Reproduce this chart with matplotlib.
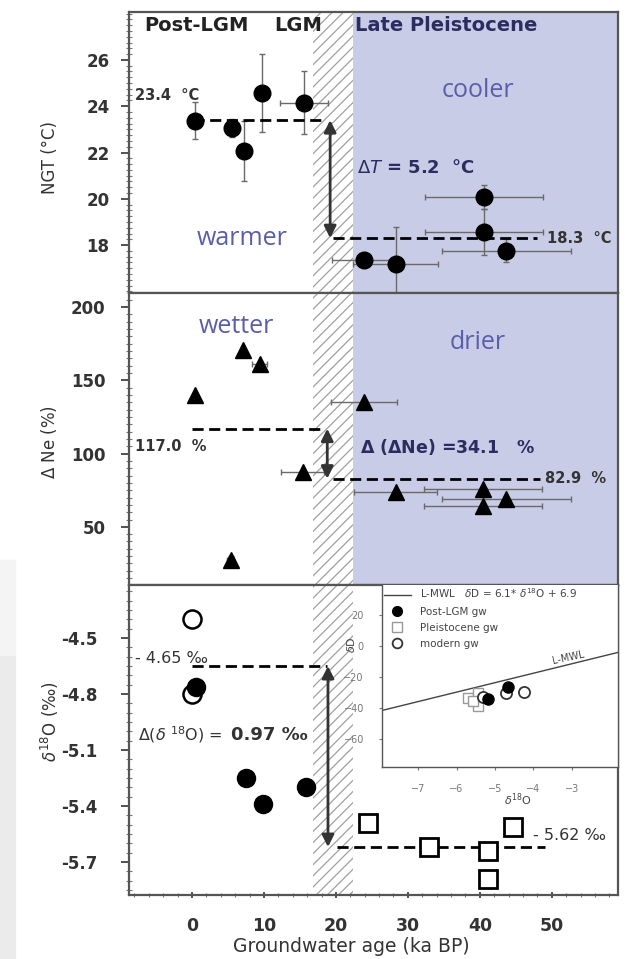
import matplotlib
matplotlib.use('Agg')
import matplotlib.pyplot as plt
from matplotlib.ticker import MultipleLocator, FormatStrFormatter
from matplotlib.lines import Line2D
from matplotlib.patches import Rectangle

plt.rcParams['font.family'] = ['DejaVu Sans']
plt.rcParams['hatch.linewidth'] = 0.9

# ---------------- data ----------------
# Panel 1: noble gas temperature
ngt_age = [0.4, 5.6, 7.2, 9.7, 15.6, 40.6, 40.6, 43.7, 23.9, 28.3]
ngt = [23.37, 23.06, 22.07, 24.57, 24.15, 20.08, 18.57, 17.75, 17.34, 17.2]
ngt_xerr = [0.0, 0.6, 0.0, 1.0, 3.3, 8.2, 8.2, 9.0, 4.5, 5.9]
ngt_yerr = [0.8, 0.4, 1.3, 1.7, 1.35, 0.5, 1.0, 0.5, 0.3, 1.6]
ngt_mean_post, ngt_mean_pleist = 23.4, 18.3

# Panel 2: Delta Ne
ne_age = [0.4, 7.1, 9.4, 23.9, 15.4, 5.4, 28.3, 40.4, 43.7, 40.4]
ne = [140, 170.5, 161, 135, 87.7, 27.4, 74, 76, 69, 64]
ne_xerr = [0.0, 0.0, 1.0, 4.6, 3.0, 0.5, 5.8, 8.2, 9.0, 8.2]
ne_yerr = [0, 0, 0, 0, 0, 3, 0, 0, 0, 0]
ne_mean_post, ne_mean_pleist = 117.0, 82.9

# Panel 3: delta 18O
post_age = [0.6, 7.5, 9.9, 15.8]
post_d18o = [-4.76, -5.25, -5.39, -5.30]
modern_age = [0.0, 0.0]
modern_d18o = [-4.40, -4.80]
pleist_age = [24.4, 32.9, 41.1, 41.1, 44.6]
pleist_d18o = [-5.49, -5.62, -5.64, -5.79, -5.51]
d18o_mean_post, d18o_mean_pleist = -4.65, -5.62

# Inset: dD vs d18O
inset_post_x = [-5.18, -4.66]
inset_post_y = [-34.2, -26.5]
inset_pleist_x = [-5.70, -5.44, -5.44, -5.58]
inset_pleist_y = [-33.5, -30.3, -38.7, -35.5]
inset_modern_x = [-4.71, -4.25, -5.31]
inset_modern_y = [-30.0, -29.7, -33.0]
lmwl_slope, lmwl_icept = 6.1, 6.9
lmwl_x = [-8.0, -1.5]

# periods
lgm_span = (16.8, 22.4)
pleist_start = 22.4
XMIN, XMAX = -8.75, 59.2

# ---------------- layout ----------------
W, H = 635, 959
fig = plt.figure(figsize=(W / 100, H / 100), dpi=100)

# faint grey scan artefact at the lower left edge
fig.patches.append(Rectangle((0, 0), 15 / W, 1 - 655 / H, transform=fig.transFigure,
                             color='#ebebeb', zorder=0))
fig.patches.append(Rectangle((0, 1 - 655 / H), 15 / W, 95 / H, transform=fig.transFigure,
                             color='#f4f4f4', zorder=0))


def ax_px(l, t, r, b):
    return fig.add_axes([l / W, 1 - b / H, (r - l) / W, (b - t) / H])


ax1 = ax_px(129, 12, 618, 293)
ax2 = ax_px(129, 293, 618, 585)
ax3 = ax_px(129, 585, 618, 895)

SHADE = '#c9cce6'
DESC = '#5a5ea8'
NAVY = '#2b2d5e'
ECOL = '#6a6a6a'
TXT = '#333333'

for ax, pad in ((ax1, 8), (ax2, 11), (ax3, 17)):
    ax.set_xlim(XMIN, XMAX)
    for s in ax.spines.values():
        s.set_color('#555555')
        s.set_linewidth(1.6)
    ax.axvspan(*lgm_span, facecolor='none', edgecolor='#a0a0a0', hatch='///',
               linewidth=0, zorder=0.5)
    ax.tick_params(axis='y', which='major', direction='out', length=6, width=1.2,
                   labelsize=12, colors=TXT, pad=pad)
    ax.tick_params(axis='y', which='minor', direction='inout', length=4, width=0.8,
                   colors='#777777')

for ax in (ax1, ax2):
    ax.axvspan(pleist_start, XMAX, color=SHADE, zorder=0, linewidth=0)
    ax.tick_params(axis='x', which='both', bottom=False, labelbottom=False)

dash_kw = dict(color='black', lw=2, ls=(0, (4, 2)), zorder=3)
arrow_kw = dict(arrowstyle='<|-|>', color='#333333', lw=2, mutation_scale=18,
                shrinkA=0, shrinkB=0)
DESC_FONT = ['Open Sans', 'DejaVu Sans']

# ---------------- panel 1 ----------------
ax1.errorbar(ngt_age, ngt, xerr=ngt_xerr, yerr=ngt_yerr, fmt='none', ecolor=ECOL,
             elinewidth=1, capsize=2.5, zorder=2)
ax1.plot(ngt_age, ngt, 'o', color='black', ms=12, zorder=4)
ax1.set_ylim(15.93, 28.07)
ax1.set_yticks([18, 20, 22, 24, 26])
ax1.yaxis.set_minor_locator(MultipleLocator(0.25))
ax1.plot([0.1, 18.2], [ngt_mean_post] * 2, **dash_kw)
ax1.plot([19.6, 47.9], [ngt_mean_pleist] * 2, **dash_kw)
ax1.annotate('', xy=(19.2, ngt_mean_pleist), xytext=(19.2, ngt_mean_post),
             arrowprops=arrow_kw, zorder=5)
ax1.text(-7.9, 24.45, '23.4  °C', fontsize=10.5, fontweight='bold', color=TXT,
         va='center')
ax1.text(49.3, ngt_mean_pleist, '18.3  °C', fontsize=10.5, fontweight='bold',
         color=TXT, va='center')
ax1.text(23.0, 21.33, r'$\Delta$$\mathbf{\it{T}}$ = 5.2  °C', fontsize=13,
         fontweight='bold', color=NAVY, va='center')
ax1.text(39.7, 24.66, 'cooler', fontsize=18, color=DESC, ha='center', va='center',
         family=DESC_FONT)
ax1.text(7.0, 18.27, 'warmer', fontsize=18, color=DESC, ha='center', va='center',
         family=DESC_FONT)
ax1.text(-6.6, 27.47, 'Post-LGM', fontsize=14, fontweight='bold', color='#222222',
         va='center')
ax1.text(11.4, 27.47, 'LGM', fontsize=14, fontweight='bold', color='#222222',
         va='center')
ax1.text(22.6, 27.47, 'Late Pleistocene', fontsize=14, fontweight='bold',
         color=NAVY, va='center')

# ---------------- panel 2 ----------------
ax2.errorbar(ne_age, ne, xerr=ne_xerr, yerr=ne_yerr, fmt='none', ecolor=ECOL,
             elinewidth=1, capsize=2.5, zorder=2)
ax2.plot(ne_age, ne, '^', color='black', ms=12, zorder=4)
ax2.set_ylim(10.3, 209.6)
ax2.set_yticks([50, 100, 150, 200])
ax2.yaxis.set_minor_locator(MultipleLocator(5))
ax2.plot([0.0, 18.2], [ne_mean_post] * 2, **dash_kw)
ax2.plot([19.6, 48.3], [ne_mean_pleist] * 2, **dash_kw)
ax2.annotate('', xy=(18.8, ne_mean_pleist), xytext=(18.8, ne_mean_post),
             arrowprops=arrow_kw, zorder=5)
ax2.text(-7.9, 104.8, '117.0  %', fontsize=10.5, fontweight='bold', color=TXT,
         va='center')
ax2.text(49.0, ne_mean_pleist, '82.9  %', fontsize=10.5, fontweight='bold',
         color=TXT, va='center')
ax2.text(23.4, 104.8, r'$\mathbf{\Delta}$ ($\mathbf{\Delta}$Ne) =34.1   %', fontsize=12.5,
         fontweight='bold', color=NAVY, va='center')
ax2.text(6.2, 187, 'wetter', fontsize=18, color=DESC, ha='center', va='center',
         family=DESC_FONT)
ax2.text(39.7, 176, 'drier', fontsize=18, color=DESC, ha='center', va='center',
         family=DESC_FONT)

# ---------------- panel 3 ----------------
ax3.plot(modern_age, modern_d18o, 'o', mfc='white', mec='black', mew=1.8, ms=13,
         zorder=3)
ax3.plot(post_age, post_d18o, 'o', color='black', ms=13, zorder=4)
ax3.plot(pleist_age, pleist_d18o, 's', mfc='white', mec='black', mew=2, ms=13,
         zorder=4)
ax3.set_ylim(-5.877, -4.216)
ax3.set_yticks([-5.7, -5.4, -5.1, -4.8, -4.5])
ax3.yaxis.set_major_formatter(FormatStrFormatter('%.1f'))
ax3.yaxis.set_minor_locator(MultipleLocator(0.05))
ax3.set_xticks([0, 10, 20, 30, 40, 50])
ax3.xaxis.set_minor_locator(MultipleLocator(2))
ax3.tick_params(axis='x', which='major', direction='inout', length=5, width=1.2,
                labelsize=12.5, colors=TXT, pad=13)
ax3.tick_params(axis='x', which='minor', direction='inout', length=3, width=0.8,
                colors='#777777')
ax3.plot([0.0, 18.8], [d18o_mean_post] * 2, **dash_kw)
ax3.plot([20.1, 49.0], [d18o_mean_pleist] * 2, **dash_kw)
ax3.annotate('', xy=(18.9, d18o_mean_pleist), xytext=(18.9, d18o_mean_post),
             arrowprops=arrow_kw, zorder=5)
ax3.text(-7.9, -4.61, '- 4.65 ‰', fontsize=11.5, color=TXT, va='center')
ax3.text(47.4, -5.56, '- 5.62 ‰', fontsize=11.5, color=TXT, va='center')
ax3.text(-7.5, -5.02, r'$\Delta$($\delta$ $^{18}$O) = ', fontsize=11.5,
         color=TXT, va='center')
ax3.text(5.4, -5.02, '0.97 ‰', fontsize=13, fontweight='bold',
         color=TXT, va='center')

for ax in (ax1, ax2, ax3):
    for lab in ax.get_yticklabels():
        lab.set_fontweight('bold')
for lab in ax3.get_xticklabels():
    lab.set_fontweight('bold')

fig.text(351 / W, 1 - 947 / H, 'Groundwater age (ka BP)', fontsize=13.5,
         color=TXT, ha='center', va='center')
fig.text(50 / W, 1 - 158 / H, 'NGT (°C)', fontsize=12, rotation=90,
         color=TXT, ha='center', va='center')
fig.text(49 / W, 1 - 442 / H, r'$\Delta$ Ne (%)', fontsize=12, rotation=90,
         color=TXT, ha='center', va='center')
fig.text(50 / W, 1 - 722 / H, r'$\delta^{18}$O (‰)', fontsize=12, rotation=90,
         color=TXT, ha='center', va='center')

# ---------------- inset ----------------
axi = ax_px(382, 585, 618, 767)
axi.set_facecolor('white')
axi.set_xlim(-7.94, -1.8)
axi.set_ylim(-78, 39.4)
for s in axi.spines.values():
    s.set_color('#555555')
    s.set_linewidth(1.0)
axi.spines['top'].set_visible(False)
lx = lmwl_x
axi.plot(lx, [lmwl_slope * v + lmwl_icept for v in lx], color='#444444', lw=1)
axi.plot(inset_pleist_x, inset_pleist_y, 's', mfc='white', mec='#999999', mew=1,
         ms=7)
axi.plot(inset_modern_x, inset_modern_y, 'o', mfc='white', mec='#333333', mew=1.3,
         ms=8)
axi.plot(inset_post_x, inset_post_y, 'o', color='black', ms=8)
axi.text(-3.1, -13, 'L-MWL', fontsize=7, color='#444444', rotation=12,
         ha='center', va='bottom')
axi.set_xticks([-7, -6, -5, -4, -3])
axi.set_yticks([-60, -40, -20, 0, 20])
axi.tick_params(labelsize=7, colors='#777777', length=2)
axi.tick_params(axis='x', pad=10)
axi.tick_params(axis='y', pad=11)
handles = [
    Line2D([], [], color='#444444', lw=1),
    Line2D([], [], marker='o', ls='none', color='black', ms=7),
    Line2D([], [], marker='s', ls='none', mfc='white', mec='#999999', ms=7),
    Line2D([], [], marker='o', ls='none', mfc='white', mec='#333333', mew=1.3, ms=7),
]
labels = [r'L-MWL   $\delta$D = 6.1* $\delta^{18}$O + 6.9', 'Post-LGM gw',
          'Pleistocene gw', 'modern gw']
axi.legend(handles, labels, loc='upper left', frameon=False, fontsize=7.5,
           handlelength=2.6, handletextpad=0.9, borderaxespad=0.0,
           labelspacing=0.6, borderpad=0.15, labelcolor='#444444')
fig.text(351 / W, 1 - 645 / H, r'$\delta$D', fontsize=8, rotation=90,
         color='#444444', ha='center', va='center')
fig.text(518 / W, 1 - 800 / H, r'$\delta^{18}$O', fontsize=8,
         color='#444444', ha='center', va='center')

fig.savefig('out.png', dpi=100)
